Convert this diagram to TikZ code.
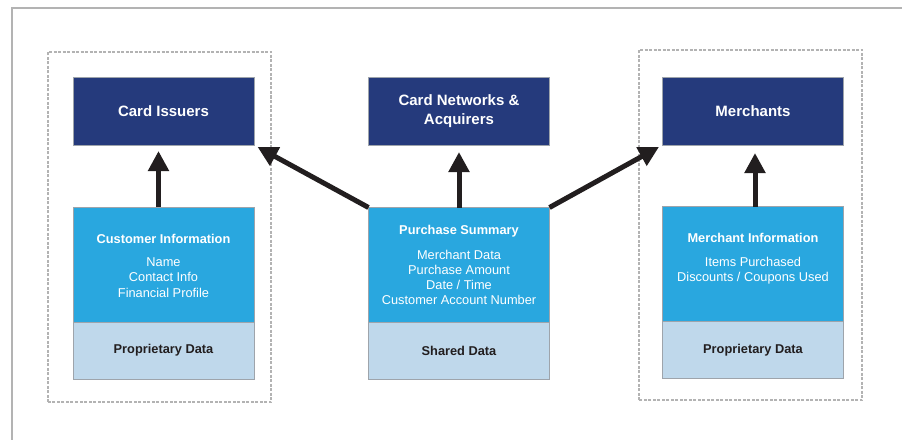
\documentclass[tikz,border=0pt]{standalone}
\usepackage{fontspec}
\setmainfont{Liberation Sans}
\usetikzlibrary{arrows.meta,positioning}

\definecolor{navy}{HTML}{253A7C}
\definecolor{midblue}{HTML}{29A7DF}
\definecolor{paleblue}{HTML}{BFD8EB}
\definecolor{edgegray}{HTML}{9EA4AB}
\definecolor{framegray}{HTML}{B3B3B3}
\definecolor{inkblack}{HTML}{221E1F}

\begin{document}
\begin{tikzpicture}[x=1pt,y=1pt,
 topbox/.style={draw=edgegray,fill=navy,minimum width=181pt,minimum height=68pt,inner sep=0pt,outer sep=0pt,text=white,font=\fontsize{15}{19}\selectfont\bfseries,align=center},
 infobox/.style={draw=edgegray,fill=midblue,minimum width=181pt,minimum height=115pt,inner sep=0pt,outer sep=0pt},
 databox/.style={draw=edgegray,fill=paleblue,minimum width=181pt,minimum height=57pt,inner sep=0pt,outer sep=0pt,text=inkblack,font=\fontsize{12.8}{15}\selectfont\bfseries},
 infotext/.style={text=white,font=\fontsize{12.8}{15.2}\selectfont,align=center,inner sep=0pt,anchor=north},
 bigarrow/.style={draw=inkblack,line width=5pt,-{Triangle[length=20pt,width=20pt]}},
 groupbox/.style={draw=framegray,line width=1.3pt,dash pattern=on 3pt off 1.5pt}]

\useasboundingbox (0,0) rectangle (902,440);

\draw[framegray,line width=1.3pt] (902,432) -- (12,432) -- (12,0);

\draw[groupbox] (48,38) rectangle (271,388);
\draw[groupbox] (639,40) rectangle (862,390);

\node[topbox] (issuers) at (163.5,329) {Card Issuers};
\node[topbox] (networks) at (459,329) {Card Networks \&\\Acquirers};
\node[topbox] (merchants) at (753,329) {Merchants};

\node[infobox] (custinfo) at (163.5,175.5) {};
\node[infobox] (suminfo) at (459,175) {};
\node[infobox] (merchinfo) at (753,176) {};

\node[databox,below=0pt of custinfo] (custdata) {Proprietary Data};
\node[databox,below=0pt of suminfo] (sumdata) {Shared Data};
\node[databox,below=0pt of merchinfo] (merchdata) {Proprietary Data};

\node[infotext] (custtext) at ([yshift=-27pt]custinfo.north)
 {\textbf{Customer Information}\\[8pt]Name\\Contact Info\\Financial Profile};
\node[infotext] (sumtext) at ([yshift=-18pt]suminfo.north)
 {\textbf{Purchase Summary}\\[9pt]Merchant Data\\Purchase Amount\\Date / Time\\Customer Account Number};
\node[infotext] (merchtext) at ([yshift=-27pt]merchinfo.north)
 {\textbf{Merchant Information}\\[8pt]Items Purchased\\Discounts / Coupons Used};

\draw[bigarrow] ([xshift=-5pt]custinfo.north) -- ([xshift=-5pt,yshift=-6pt]issuers.south);
\draw[bigarrow] (suminfo.north) -- ([yshift=-7pt]networks.south);
\draw[bigarrow] ([xshift=2pt]merchinfo.north) -- ([xshift=2pt,yshift=-8pt]merchants.south);

\draw[bigarrow,shorten >=4pt] (suminfo.north west) -- (issuers.south east);
\draw[bigarrow,shorten >=4pt] (suminfo.north east) -- (merchants.south west);
\end{tikzpicture}
\end{document}
